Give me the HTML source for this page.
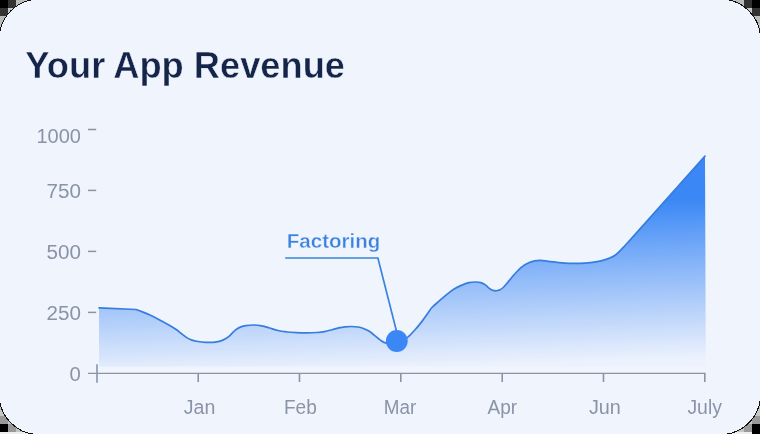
<!DOCTYPE html>
<html><head><meta charset="utf-8"><title>Your App Revenue</title>
<style>
html,body{margin:0;padding:0;background:#000;}
body{width:760px;height:434px;overflow:hidden;font-family:"Liberation Sans",sans-serif;}
svg{display:block}
text{font-family:"Liberation Sans",sans-serif;}
</style></head><body>
<svg width="760" height="434" viewBox="0 0 760 434">
<defs>
<linearGradient id="g" gradientUnits="userSpaceOnUse" x1="399" y1="155" x2="405.6" y2="367">
<stop offset="0" stop-color="#3a87f5"/>
<stop offset="0.25" stop-color="#3a87f5"/>
<stop offset="0.57" stop-color="#3a87f5" stop-opacity="0.565"/>
<stop offset="1" stop-color="#3a87f5" stop-opacity="0.02"/>
</linearGradient>
<pattern id="chk" width="16" height="16" patternUnits="userSpaceOnUse">
<rect width="16" height="16" fill="#c4c4c4"/>
</pattern>
<mask id="mm" maskUnits="userSpaceOnUse" x="0" y="0" width="760" height="434"><rect width="760" height="434" fill="#fff"/></mask>
<clipPath id="card"><rect x="0" y="0" width="760" height="434" rx="31" ry="31"/></clipPath>
</defs>
<!-- corner checker -->
<rect width="760" height="434" fill="#c6c6c6"/>
<g shape-rendering="crispEdges">
<rect x="0" y="0" width="8" height="8" fill="#000"/><rect x="8" y="0" width="8" height="8" fill="#333"/><rect x="0" y="8" width="8" height="8" fill="#333"/><rect x="16" y="0" width="8" height="8" fill="#bbb"/><rect x="0" y="16" width="8" height="8" fill="#bbb"/>
<rect x="752" y="0" width="8" height="8" fill="#000"/><rect x="744" y="0" width="8" height="8" fill="#333"/><rect x="752" y="8" width="8" height="8" fill="#333"/><rect x="736" y="0" width="8" height="8" fill="#bbb"/><rect x="752" y="16" width="8" height="8" fill="#bbb"/>
<rect x="0" y="432" width="760" height="2" fill="#eee"/>
<rect x="0" y="424" width="8" height="8" fill="#000"/><rect x="8" y="424" width="8" height="8" fill="#999"/><rect x="0" y="416" width="8" height="8" fill="#999"/>
<rect x="752" y="424" width="8" height="10" fill="#000"/><rect x="744" y="424" width="8" height="8" fill="#999"/><rect x="752" y="416" width="8" height="8" fill="#999"/>
</g>
<rect x="-0.9" y="-0.9" width="761.5" height="435.5" rx="40.1" ry="40.1" fill="#f0f4fd" shape-rendering="crispEdges"/>
<path d="M-0.9,39.2 A40.1,40.1 0 0 1 39.2,-0.9 M720.5,-0.9 A40.1,40.1 0 0 1 760.6,39.2 M760.6,394.5 A40.1,40.1 0 0 1 720.5,434.6 M39.2,434.6 A40.1,40.1 0 0 1 -0.9,394.5" fill="none" stroke="#111" stroke-width="1" shape-rendering="crispEdges"/>
<g mask="url(#mm)">
<!-- title -->
<g font-size="37.5" font-weight="700" fill="#15254a" stroke="#f0f4fd" stroke-width="0.45">
<text x="25.3" y="78" textLength="80" lengthAdjust="spacingAndGlyphs">Your</text>
<text x="113.2" y="78" textLength="70.5" lengthAdjust="spacingAndGlyphs">App</text>
<text x="193.8" y="78" textLength="151.2" lengthAdjust="spacingAndGlyphs">Revenue</text>
</g>
<!-- y labels -->
<g font-size="19.4" fill="#8a94a7" text-anchor="end">
<text x="80.9" y="143.1" textLength="44.5" lengthAdjust="spacingAndGlyphs">1000</text>
<text x="80.9" y="197.7" textLength="34.4" lengthAdjust="spacingAndGlyphs">750</text>
<text x="80.9" y="258.7" textLength="34.4" lengthAdjust="spacingAndGlyphs">500</text>
<text x="80.9" y="319.7" textLength="34.4" lengthAdjust="spacingAndGlyphs">250</text>
<text x="80.9" y="380.7" textLength="11.3" lengthAdjust="spacingAndGlyphs">0</text>
</g>
<g stroke="#8a94a7" stroke-width="1.5">
<line x1="88" x2="96.2" y1="129.5" y2="129.5"/>
<line x1="88" x2="96.2" y1="190.4" y2="190.4"/>
<line x1="88" x2="96.2" y1="251.4" y2="251.4"/>
<line x1="88" x2="96.2" y1="312.4" y2="312.4"/>
</g>
<!-- area -->
<path d="M99,307.8 L136,309.5  C137.2,309.9 140.7,311.2 143.0,312.1 C145.3,313.0 147.3,313.8 150.0,315.1 C152.7,316.4 156.1,318.1 159.2,319.7 C162.3,321.3 165.6,323.1 168.4,324.7 C171.2,326.3 173.7,327.8 175.8,329.3 C178.0,330.8 179.5,332.1 181.3,333.5 C183.1,334.9 185.1,336.5 186.8,337.6 C188.5,338.7 189.6,339.2 191.4,339.9 C193.2,340.5 195.6,341.1 197.9,341.5 C200.2,341.9 202.9,342.2 205.3,342.3 C207.8,342.4 210.5,342.4 212.6,342.3 C214.7,342.2 216.2,342.0 218.0,341.6 C219.8,341.2 221.6,340.7 223.4,339.9 C225.2,339.1 226.9,338.0 228.7,336.6 C230.5,335.2 232.2,332.8 234.0,331.3 C235.8,329.8 237.2,328.5 239.2,327.6 C241.2,326.7 243.4,326.1 245.8,325.7 C248.2,325.3 251.1,325.0 253.7,325.0 C256.3,325.0 259.0,325.3 261.6,325.8 C264.2,326.3 266.8,327.2 269.5,328.0 C272.2,328.8 275.0,329.8 277.9,330.5 C280.8,331.2 284.0,331.6 287.1,332.0 C290.2,332.4 293.0,332.5 296.3,332.6 C299.6,332.8 303.3,332.9 306.8,332.9 C310.3,332.9 314.4,332.7 317.4,332.5 C320.4,332.3 322.2,332.1 324.7,331.6 C327.1,331.1 329.8,330.3 332.1,329.7 C334.4,329.1 336.5,328.4 338.6,327.9 C340.8,327.4 342.9,327.0 345.0,326.8 C347.1,326.6 349.2,326.5 351.4,326.5 C353.5,326.5 355.9,326.7 357.9,327.0 C359.9,327.3 361.6,327.8 363.4,328.5 C365.2,329.2 367.0,330.0 368.9,331.1 C370.8,332.2 372.6,333.8 374.5,335.3 C376.4,336.8 378.0,338.6 380.0,339.9 C382.0,341.2 383.5,342.6 386.3,343.2 C389.1,343.8 393.2,344.6 396.8,343.6 C400.4,342.6 404.5,339.8 407.6,337.4 C410.7,335.0 412.9,332.1 415.3,329.5 C417.7,326.9 419.8,324.1 421.8,321.6 C423.8,319.1 425.5,316.6 427.1,314.3 C428.8,312.0 429.7,310.0 431.7,307.8 C433.7,305.6 436.5,303.4 439.0,301.2 C441.5,299.0 444.0,296.7 446.6,294.6 C449.2,292.5 451.9,290.4 454.5,288.8 C457.1,287.2 460.0,285.9 462.4,284.9 C464.8,283.9 466.7,283.1 468.9,282.6 C471.1,282.1 473.5,282.0 475.5,282.0 C477.5,282.0 479.2,282.1 480.8,282.6 C482.4,283.1 484.0,283.9 485.4,284.9 C486.8,285.9 488.1,287.5 489.3,288.4 C490.5,289.3 491.5,289.9 492.6,290.3 C493.7,290.7 494.8,290.8 495.9,290.8 C497.0,290.8 498.0,290.7 499.2,290.1 C500.4,289.6 501.7,288.9 503.2,287.5 C504.7,286.1 506.4,283.9 508.4,281.6 C510.4,279.3 512.8,276.1 515.0,273.7 C517.2,271.3 519.4,268.9 521.6,267.1 C523.8,265.3 526.0,263.9 528.2,262.9 C530.4,261.8 532.7,261.2 534.7,260.8 C536.8,260.4 538.2,260.2 540.5,260.3 C542.8,260.4 545.3,260.9 548.4,261.3 C551.5,261.7 555.4,262.3 558.9,262.6 C562.4,262.9 566.0,263.2 569.5,263.3 C573.0,263.4 576.5,263.5 580.0,263.4 C583.5,263.3 587.0,263.0 590.5,262.6 C594.0,262.2 597.9,261.5 601.0,260.8 C604.1,260.1 606.5,259.4 608.9,258.4 C611.3,257.4 613.3,256.6 615.5,255.0 C617.7,253.4 619.7,251.2 622.1,248.7 C624.5,246.2 628.7,241.5 630.0,240.1 L705.0,156.1 L705.8,366.5 L99,366.5 Z" fill="url(#g)"/>
<path d="M99,307.8 L136,309.5  C137.2,309.9 140.7,311.2 143.0,312.1 C145.3,313.0 147.3,313.8 150.0,315.1 C152.7,316.4 156.1,318.1 159.2,319.7 C162.3,321.3 165.6,323.1 168.4,324.7 C171.2,326.3 173.7,327.8 175.8,329.3 C178.0,330.8 179.5,332.1 181.3,333.5 C183.1,334.9 185.1,336.5 186.8,337.6 C188.5,338.7 189.6,339.2 191.4,339.9 C193.2,340.5 195.6,341.1 197.9,341.5 C200.2,341.9 202.9,342.2 205.3,342.3 C207.8,342.4 210.5,342.4 212.6,342.3 C214.7,342.2 216.2,342.0 218.0,341.6 C219.8,341.2 221.6,340.7 223.4,339.9 C225.2,339.1 226.9,338.0 228.7,336.6 C230.5,335.2 232.2,332.8 234.0,331.3 C235.8,329.8 237.2,328.5 239.2,327.6 C241.2,326.7 243.4,326.1 245.8,325.7 C248.2,325.3 251.1,325.0 253.7,325.0 C256.3,325.0 259.0,325.3 261.6,325.8 C264.2,326.3 266.8,327.2 269.5,328.0 C272.2,328.8 275.0,329.8 277.9,330.5 C280.8,331.2 284.0,331.6 287.1,332.0 C290.2,332.4 293.0,332.5 296.3,332.6 C299.6,332.8 303.3,332.9 306.8,332.9 C310.3,332.9 314.4,332.7 317.4,332.5 C320.4,332.3 322.2,332.1 324.7,331.6 C327.1,331.1 329.8,330.3 332.1,329.7 C334.4,329.1 336.5,328.4 338.6,327.9 C340.8,327.4 342.9,327.0 345.0,326.8 C347.1,326.6 349.2,326.5 351.4,326.5 C353.5,326.5 355.9,326.7 357.9,327.0 C359.9,327.3 361.6,327.8 363.4,328.5 C365.2,329.2 367.0,330.0 368.9,331.1 C370.8,332.2 372.6,333.8 374.5,335.3 C376.4,336.8 378.0,338.6 380.0,339.9 C382.0,341.2 383.5,342.6 386.3,343.2 C389.1,343.8 393.2,344.6 396.8,343.6 C400.4,342.6 404.5,339.8 407.6,337.4 C410.7,335.0 412.9,332.1 415.3,329.5 C417.7,326.9 419.8,324.1 421.8,321.6 C423.8,319.1 425.5,316.6 427.1,314.3 C428.8,312.0 429.7,310.0 431.7,307.8 C433.7,305.6 436.5,303.4 439.0,301.2 C441.5,299.0 444.0,296.7 446.6,294.6 C449.2,292.5 451.9,290.4 454.5,288.8 C457.1,287.2 460.0,285.9 462.4,284.9 C464.8,283.9 466.7,283.1 468.9,282.6 C471.1,282.1 473.5,282.0 475.5,282.0 C477.5,282.0 479.2,282.1 480.8,282.6 C482.4,283.1 484.0,283.9 485.4,284.9 C486.8,285.9 488.1,287.5 489.3,288.4 C490.5,289.3 491.5,289.9 492.6,290.3 C493.7,290.7 494.8,290.8 495.9,290.8 C497.0,290.8 498.0,290.7 499.2,290.1 C500.4,289.6 501.7,288.9 503.2,287.5 C504.7,286.1 506.4,283.9 508.4,281.6 C510.4,279.3 512.8,276.1 515.0,273.7 C517.2,271.3 519.4,268.9 521.6,267.1 C523.8,265.3 526.0,263.9 528.2,262.9 C530.4,261.8 532.7,261.2 534.7,260.8 C536.8,260.4 538.2,260.2 540.5,260.3 C542.8,260.4 545.3,260.9 548.4,261.3 C551.5,261.7 555.4,262.3 558.9,262.6 C562.4,262.9 566.0,263.2 569.5,263.3 C573.0,263.4 576.5,263.5 580.0,263.4 C583.5,263.3 587.0,263.0 590.5,262.6 C594.0,262.2 597.9,261.5 601.0,260.8 C604.1,260.1 606.5,259.4 608.9,258.4 C611.3,257.4 613.3,256.6 615.5,255.0 C617.7,253.4 619.7,251.2 622.1,248.7 C624.5,246.2 628.7,241.5 630.0,240.1 L705.0,156.1" fill="none" stroke="#377ddd" stroke-width="1.7" stroke-linejoin="round" stroke-linecap="round"/>
<!-- x axis -->
<g stroke="#8a94a7" stroke-width="1.6">
<line x1="88" x2="705.6" y1="373.4" y2="373.4" stroke-width="1.4"/>
<line x1="97" x2="97" y1="364.2" y2="382.8"/>
<line x1="198.2" x2="198.2" y1="373.4" y2="382"/>
<line x1="299.5" x2="299.5" y1="373.4" y2="382"/>
<line x1="400.8" x2="400.8" y1="373.4" y2="382"/>
<line x1="502.2" x2="502.2" y1="373.4" y2="382"/>
<line x1="603.5" x2="603.5" y1="373.4" y2="382"/>
<line x1="704.8" x2="704.8" y1="373.4" y2="382"/>
</g>
<g font-size="19.4" fill="#8a94a7">
<text x="183.8" y="414.2" textLength="31.5" lengthAdjust="spacingAndGlyphs">Jan</text>
<text x="284" y="414.2" textLength="32.8" lengthAdjust="spacingAndGlyphs">Feb</text>
<text x="383.8" y="414.2" textLength="32.5" lengthAdjust="spacingAndGlyphs">Mar</text>
<text x="487.6" y="414.2" textLength="29.5" lengthAdjust="spacingAndGlyphs">Apr</text>
<text x="588.9" y="414.2" textLength="32" lengthAdjust="spacingAndGlyphs">Jun</text>
<text x="687.4" y="414.2" textLength="34.5" lengthAdjust="spacingAndGlyphs">July</text>
</g>
<!-- annotation -->
<text x="286.8" y="247.5" font-size="19.5" font-weight="700" fill="#3a82e0" stroke="#f0f4fd" stroke-width="0.35" textLength="93.6" lengthAdjust="spacingAndGlyphs">Factoring</text>
<path d="M285.2,258 L377.9,258 L399,341" fill="none" stroke="#3a82e0" stroke-width="1.7" stroke-linejoin="miter"/>
<circle cx="396.8" cy="341" r="10.9" fill="#3a87f5"/>
</g>
</svg>
</body></html>
